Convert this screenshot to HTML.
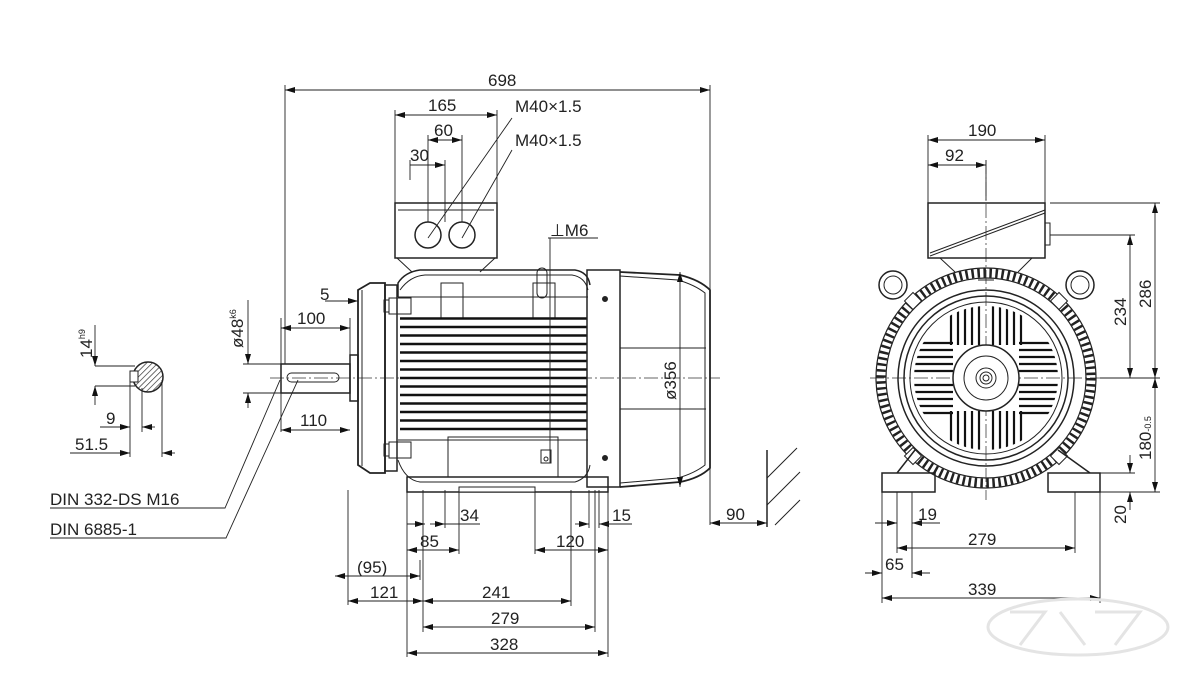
<!DOCTYPE html>
<html><head><meta charset="utf-8"><style>
html,body{margin:0;padding:0;background:#fff;}
svg{display:block;}
text{font-family:"Liberation Sans",sans-serif;font-size:17px;fill:#222;}
</style></head><body>
<svg width="1200" height="687" viewBox="0 0 1200 687" xmlns="http://www.w3.org/2000/svg">
<defs>
<marker id="a" viewBox="0 0 10 6" refX="10" refY="3" markerWidth="10" markerHeight="6" orient="auto-start-reverse" markerUnits="userSpaceOnUse"><path d="M0,0 L10,3 L0,6 z" fill="#111"/></marker>
<pattern id="h" width="4" height="4" patternUnits="userSpaceOnUse" patternTransform="rotate(45)"><line x1="0" y1="0" x2="0" y2="4" stroke="#222" stroke-width="1.3"/></pattern>
<clipPath id="fan"><circle cx="986" cy="378" r="72"/></clipPath>
</defs>
<g stroke="#222" stroke-width="1" fill="none">
<line x1="270" y1="378" x2="720" y2="378" stroke-dasharray="14,3,2,3" stroke="#666"/>
<line x1="870" y1="378" x2="1110" y2="378" stroke-dasharray="14,3,2,3" stroke="#666"/>
<line x1="986" y1="160" x2="986" y2="500" stroke-dasharray="14,3,2,3" stroke="#666"/>

<!-- SIDE VIEW -->
<rect x="281" y="364" width="69" height="29" stroke-width="1.5"/>
<rect x="287" y="373" width="52" height="9" rx="4.5"/>
<rect x="350" y="355" width="8" height="46" stroke-width="1.5"/>
<path d="M358,290 L370,283 L385,283 L385,473 L370,473 L358,465 Z" stroke-width="1.8"/>
<line x1="362" y1="290" x2="362" y2="466"/>
<rect x="385" y="285" width="12" height="186" stroke-width="1.5"/>
<rect x="384" y="300" width="5" height="12"/><rect x="389" y="298" width="22" height="16"/>
<rect x="384" y="444" width="5" height="12"/><rect x="389" y="442" width="22" height="16"/>
<path d="M398,297 L398,283 Q405,272 420,270 L575,270 Q588,272 590,285" stroke-width="1.5"/>
<path d="M400,290 Q410,276 425,275 L572,275 Q585,277 588,290"/>
<line x1="398" y1="297" x2="588" y2="297"/>
<rect x="441" y="283" width="22" height="36"/>
<rect x="533" y="283" width="22" height="36"/>
<rect x="537" y="268" width="10" height="30" rx="5"/>
<path d="M398,440 L588,440 M398,460 Q405,480 420,482 L575,482 Q588,478 590,465"/>
<rect x="448" y="437" width="110" height="40"/>
<rect x="541" y="450" width="10" height="13"/>
<circle cx="546" cy="459" r="2"/>
<g stroke-width="2.6" stroke="#111">
<line x1="400" y1="318.5" x2="587" y2="318.5"/><line x1="400" y1="327" x2="587" y2="327"/><line x1="400" y1="335.5" x2="587" y2="335.5"/><line x1="400" y1="344" x2="587" y2="344"/><line x1="400" y1="352.5" x2="587" y2="352.5"/><line x1="400" y1="361" x2="587" y2="361"/><line x1="400" y1="369.5" x2="587" y2="369.5"/><line x1="400" y1="378" x2="587" y2="378"/><line x1="400" y1="386.5" x2="587" y2="386.5"/><line x1="400" y1="395" x2="587" y2="395"/><line x1="400" y1="403.5" x2="587" y2="403.5"/><line x1="400" y1="412" x2="587" y2="412"/><line x1="400" y1="420.5" x2="587" y2="420.5"/><line x1="400" y1="429" x2="587" y2="429"/>
</g>
<rect x="407" y="477" width="201" height="15" stroke-width="1.5"/>
<rect x="459" y="487" width="76" height="5" fill="#fff"/>
<rect x="587" y="270" width="33" height="217" stroke-width="1.5"/>
<circle cx="605" cy="299" r="2.5" fill="#222"/><circle cx="605" cy="458" r="2.5" fill="#222"/>
<path d="M620,272 L680,275 Q700,280 710,290 L710,468 Q700,478 680,482 L620,487" stroke-width="1.8"/>
<path d="M620,276 L678,280 Q695,285 705,293 L705,465 Q695,473 678,478 L620,483"/>
<line x1="620" y1="348" x2="706" y2="348"/><line x1="620" y1="409" x2="706" y2="409"/>
<rect x="395" y="203" width="102" height="55" stroke-width="1.5"/>
<line x1="398" y1="210" x2="494" y2="210"/>
<path d="M397,258 L412,272 M495,258 L480,272"/>
<circle cx="428" cy="235" r="13" stroke-width="1.5"/><circle cx="462" cy="235" r="13" stroke-width="1.5"/>

<!-- FRONT VIEW -->
<rect x="928" y="203" width="117" height="55" stroke-width="1.5"/>
<line x1="930" y1="253" x2="1045" y2="210"/><line x1="930" y1="256" x2="1045" y2="213"/>
<rect x="1045" y="223" width="5" height="22"/>
<path d="M940,258 L955,272 M1032,258 L1018,272"/>
<circle cx="893" cy="285" r="14" stroke-width="1.5"/><circle cx="893" cy="285" r="9"/>
<circle cx="1080" cy="285" r="14" stroke-width="1.5"/><circle cx="1080" cy="285" r="9"/>
<circle cx="986" cy="378" r="105" stroke-width="9" stroke="#222" stroke-dasharray="2.5,3.5"/>
<circle cx="986" cy="378" r="100" stroke-width="1.2"/>
<circle cx="986" cy="378" r="110" stroke-width="1.2"/>
<circle cx="986" cy="378" r="88" stroke-width="1.5"/>
<circle cx="986" cy="378" r="82" stroke-width="1.5"/>
<circle cx="986" cy="378" r="76"/>
<g clip-path="url(#fan)" stroke-width="2.2" stroke="#111">
<path d="M951,300V345 M958,300V345 M965,300V345 M972,300V345 M979,300V345 M993,300V345 M1000,300V345 M1007,300V345 M1014,300V345 M1021,300V345"/>
<path d="M951,411V460 M958,411V460 M965,411V460 M972,411V460 M979,411V460 M993,411V460 M1000,411V460 M1007,411V460 M1014,411V460 M1021,411V460"/>
<path d="M905,343H953 M905,350H953 M905,357H953 M905,364H953 M905,371H953 M905,385H953 M905,392H953 M905,399H953 M905,406H953 M905,413H953"/>
<path d="M1019,343H1070 M1019,350H1070 M1019,357H1070 M1019,364H1070 M1019,371H1070 M1019,385H1070 M1019,392H1070 M1019,399H1070 M1019,406H1070 M1019,413H1070"/>
</g>
<circle cx="986" cy="378" r="33" fill="#fff" stroke-width="1.5"/>
<circle cx="986" cy="378" r="22"/>
<circle cx="986" cy="378" r="10"/><circle cx="986" cy="378" r="6"/><circle cx="986" cy="378" r="3"/>
<rect x="907" y="295" width="12" height="12" transform="rotate(45 913 301)" fill="#fff"/>
<rect x="1053" y="295" width="12" height="12" transform="rotate(45 1059 301)" fill="#fff"/>
<rect x="907" y="450" width="12" height="12" transform="rotate(45 913 456)" fill="#fff"/>
<rect x="1053" y="450" width="12" height="12" transform="rotate(45 1059 456)" fill="#fff"/>
<path d="M882,473 L935,473 L935,492 L882,492 Z M897,473 L915,450 M1090,473 L1058,450" stroke-width="1.5"/>
<path d="M1048,473 L1100,473 L1100,492 L1048,492 Z" stroke-width="1.5"/>
<line x1="978" y1="280" x2="994" y2="280"/>
<line x1="767" y1="450" x2="767" y2="527" stroke-width="1.5"/>
<path d="M767,478 L797,448 M767,505 L800,472 M775,525 L800,500"/>

<!-- DIMENSIONS -->
<g stroke-width="0.9">
<path d="M285,85 V364 M710,85 V525 M395,110 V203 M497,110 V203 M428,135 V222 M462,135 V222 M445,160 V222 M410,160 V180"/>
<path d="M281,318 V432 M350,318 V355 M358,292 V302"/>
<path d="M243,364 H281 M243,393 H281"/>
<path d="M348,490 V605 M407,490 V657 M423,490 V632 M445,490 V528 M459,490 V554 M535,490 V554 M571,490 V606 M589,490 V528 M595,490 V632 M599,490 V528 M608,490 V657 M420,560 V580"/>
<path d="M928,135 V203 M1045,135 V203 M986,160 V200 M1050,203 H1160 M1050,235 H1135 M1100,378 H1160 M1100,492 H1160 M1100,473 H1135"/>
<path d="M882,492 V603 M897,492 V553 M912,492 V578 M1075,492 V553 M1100,492 V603"/>
<path d="M95,366 H135 M95,386 H135 M130,380 V457 M142,388 V432 M162,380 V457"/>
<line x1="285" y1="90" x2="710" y2="90" marker-start="url(#a)" marker-end="url(#a)"/>
<line x1="395" y1="115" x2="497" y2="115" marker-start="url(#a)" marker-end="url(#a)"/>
<line x1="428" y1="140" x2="462" y2="140" marker-start="url(#a)" marker-end="url(#a)"/>
<line x1="410" y1="165" x2="445" y2="165" marker-end="url(#a)"/>
<line x1="281" y1="328" x2="350" y2="328" marker-start="url(#a)" marker-end="url(#a)"/>
<line x1="281" y1="430" x2="350" y2="430" marker-start="url(#a)" marker-end="url(#a)"/>
<line x1="325" y1="301" x2="358" y2="301" marker-end="url(#a)"/>
<line x1="248" y1="300" x2="248" y2="364" marker-end="url(#a)"/>
<line x1="248" y1="408" x2="248" y2="393" marker-end="url(#a)"/>
<line x1="680" y1="272" x2="680" y2="487" marker-start="url(#a)" marker-end="url(#a)"/>
<line x1="710" y1="523" x2="767" y2="523" marker-start="url(#a)" marker-end="url(#a)"/>
<line x1="407" y1="524" x2="425" y2="524" marker-end="url(#a)"/>
<line x1="445" y1="524" x2="480" y2="524"/>
<line x1="430" y1="524" x2="445" y2="524" marker-end="url(#a)"/>
<line x1="407" y1="550" x2="459" y2="550" marker-start="url(#a)" marker-end="url(#a)"/>
<line x1="535" y1="550" x2="608" y2="550" marker-start="url(#a)" marker-end="url(#a)"/>
<line x1="575" y1="524" x2="589" y2="524" marker-end="url(#a)"/>
<line x1="612" y1="524" x2="599" y2="524" marker-end="url(#a)"/>
<line x1="599" y1="524" x2="632" y2="524"/>
<line x1="335" y1="576" x2="420" y2="576" marker-start="url(#a)" marker-end="url(#a)"/>
<line x1="348" y1="601" x2="423" y2="601" marker-start="url(#a)" marker-end="url(#a)"/>
<line x1="423" y1="601" x2="571" y2="601" marker-start="url(#a)" marker-end="url(#a)"/>
<line x1="423" y1="627" x2="595" y2="627" marker-start="url(#a)" marker-end="url(#a)"/>
<line x1="407" y1="653" x2="608" y2="653" marker-start="url(#a)" marker-end="url(#a)"/>
<line x1="928" y1="140" x2="1045" y2="140" marker-start="url(#a)" marker-end="url(#a)"/>
<line x1="928" y1="165" x2="986" y2="165" marker-start="url(#a)" marker-end="url(#a)"/>
<line x1="1130" y1="235" x2="1130" y2="378" marker-start="url(#a)" marker-end="url(#a)"/>
<line x1="1155" y1="203" x2="1155" y2="378" marker-start="url(#a)" marker-end="url(#a)"/>
<line x1="1155" y1="378" x2="1155" y2="492" marker-start="url(#a)" marker-end="url(#a)"/>
<line x1="1130" y1="455" x2="1130" y2="473" marker-end="url(#a)"/>
<line x1="1130" y1="510" x2="1130" y2="492" marker-end="url(#a)"/>
<line x1="875" y1="523" x2="897" y2="523" marker-end="url(#a)"/>
<line x1="930" y1="523" x2="912" y2="523" marker-end="url(#a)"/>
<line x1="912" y1="523" x2="940" y2="523"/>
<line x1="897" y1="548" x2="1075" y2="548" marker-start="url(#a)" marker-end="url(#a)"/>
<line x1="865" y1="573" x2="882" y2="573" marker-end="url(#a)"/>
<line x1="930" y1="573" x2="912" y2="573" marker-end="url(#a)"/>
<line x1="882" y1="598" x2="1100" y2="598" marker-start="url(#a)" marker-end="url(#a)"/>
<line x1="95" y1="325" x2="95" y2="366" marker-end="url(#a)"/>
<line x1="95" y1="405" x2="95" y2="386" marker-end="url(#a)"/>
<line x1="100" y1="427" x2="130" y2="427" marker-end="url(#a)"/>
<line x1="155" y1="427" x2="142" y2="427" marker-end="url(#a)"/>
<line x1="70" y1="453" x2="130" y2="453" marker-end="url(#a)"/>
<line x1="175" y1="453" x2="162" y2="453" marker-end="url(#a)"/>
<path d="M512,118 L428,238 M512,150 L462,238"/>
<path d="M548,238 H598 M550,238 V463"/>
<path d="M50,508 H225 L280,380 M50,538 H226 L298,380"/>
</g>
</g>
<circle cx="148" cy="377" r="15" fill="url(#h)" stroke="#222" stroke-width="1.5"/>
<rect x="130" y="371" width="8" height="11" fill="#fff" stroke="#222"/>

<!-- TEXT -->
<text x="488" y="86">698</text>
<text x="428" y="111">165</text>
<text x="434" y="136">60</text>
<text x="410" y="161">30</text>
<text x="515" y="112">M40×1.5</text>
<text x="515" y="146">M40×1.5</text>
<text x="550" y="236">⊥M6</text>
<text x="320" y="300">5</text>
<text x="297" y="324">100</text>
<text x="300" y="426">110</text>
<text x="460" y="521">34</text>
<text x="420" y="547">85</text>
<text x="556" y="547">120</text>
<text x="612" y="521">15</text>
<text x="357" y="573">(95)</text>
<text x="370" y="598">121</text>
<text x="482" y="598">241</text>
<text x="491" y="624">279</text>
<text x="490" y="650">328</text>
<text x="726" y="520">90</text>
<text x="50" y="505">DIN 332-DS M16</text>
<text x="50" y="535">DIN 6885-1</text>
<text x="75" y="450">51.5</text>
<text x="106" y="424">9</text>
<text x="968" y="136">190</text>
<text x="945" y="161">92</text>
<text x="918" y="520">19</text>
<text x="968" y="545">279</text>
<text x="885" y="570">65</text>
<text x="968" y="595">339</text>
<text transform="translate(243,348) rotate(-90)">ø48<tspan font-size="9" dy="-7">k6</tspan></text>
<text transform="translate(676,400) rotate(-90)">ø356</text>
<text transform="translate(92,358) rotate(-90)">14<tspan font-size="9" dy="-7">h9</tspan></text>
<text transform="translate(1126,326) rotate(-90)">234</text>
<text transform="translate(1151,308) rotate(-90)">286</text>
<text transform="translate(1151,460) rotate(-90)">180<tspan font-size="9">-0.5</tspan></text>
<text transform="translate(1126,524) rotate(-90)">20</text>
<g stroke="#e4e4e4" stroke-width="3" fill="none">
<ellipse cx="1078" cy="627" rx="90" ry="28"/>
<path d="M1010,612 H1045 L1020,645 M1060,612 L1085,645 M1095,612 H1140 L1115,645"/>
</g>
</svg>
</body></html>
